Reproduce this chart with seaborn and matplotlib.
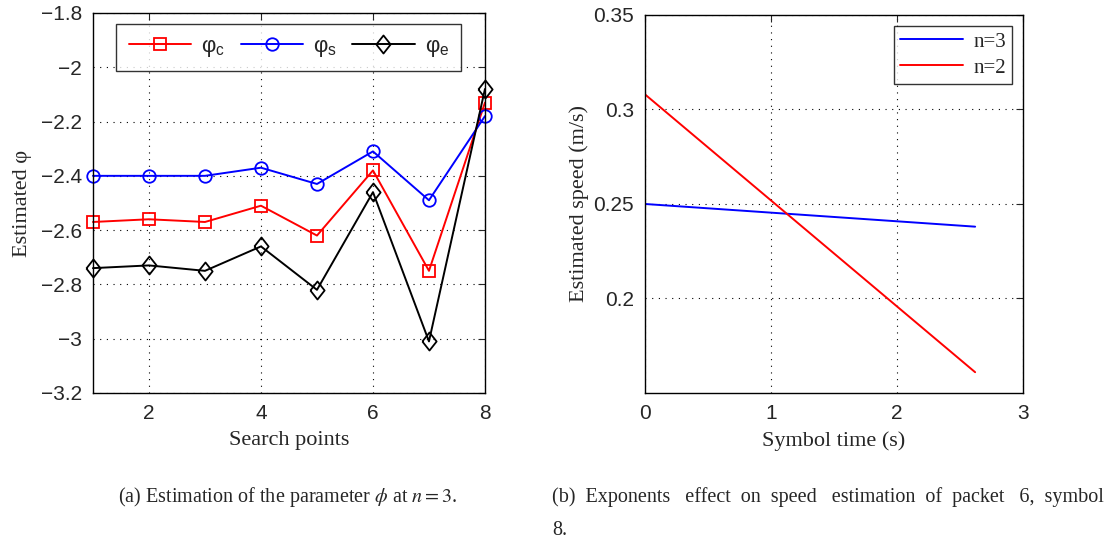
import numpy as np
import pandas as pd
import seaborn as sns
import matplotlib
matplotlib.use("Agg")
import matplotlib.pyplot as plt

# left panel: estimated phi per search point
search_points = [1, 2, 3, 4, 5, 6, 7, 8]
phi_c = [-2.57, -2.56, -2.57, -2.51, -2.62, -2.38, -2.75, -2.13]
phi_s = [-2.40, -2.40, -2.40, -2.37, -2.43, -2.31, -2.49, -2.18]
phi_e = [-2.74, -2.73, -2.75, -2.66, -2.82, -2.46, -3.01, -2.08]

# right panel: speed estimate vs symbol time (straight lines, end points)
symbol_time = [0.0, 2.62]
speed_n3 = [0.250, 0.238]
speed_n2 = [0.308, 0.161]

left_yticks = [-3.2, -3.0, -2.8, -2.6, -2.4, -2.2, -2.0, -1.8]
left_ylabels = ["\u22123.2", "\u22123", "\u22122.8", "\u22122.6", "\u22122.4", "\u22122.2", "\u22122", "\u22121.8"]

sns.set_style("white")
plt.rcParams["font.family"] = ["Liberation Sans", "DejaVu Sans"]
plt.rcParams["mathtext.fontset"] = "stix"
plt.rcParams["xtick.direction"] = "in"
plt.rcParams["ytick.direction"] = "in"
plt.rcParams["xtick.top"] = True
plt.rcParams["ytick.right"] = True

serif = ["Liberation Serif", "DejaVu Serif"]

fig = plt.figure(figsize=(11.08, 5.41), dpi=100)
ax1 = fig.add_axes([0.0839, 0.2736, 0.3538, 0.7024])
ax2 = fig.add_axes([0.5821, 0.2736, 0.3412, 0.6987])

# MATLAB-like diamond: taller than wide
diamond = [(-0.79, 0), (0, 1), (0.79, 0), (0, -1), (-0.79, 0)]

series = [
    (phi_c, "red", "s", 8, "\u03c6$_\\mathregular{c}$"),
    (phi_s, "blue", "o", 9, "\u03c6$_\\mathregular{s}$"),
    (phi_e, "black", diamond, 13, "\u03c6$_\\mathregular{e}$"),
]
for vals, col, mk, ms, lab in series:
    sns.lineplot(x=search_points, y=vals, ax=ax1, color=col, marker=mk,
                 markersize=ms, mfc="none", mec=col, mew=1.3, lw=1.4,
                 label=lab, legend=False, clip_on=False, zorder=3)

ax1.set_xlim(1, 8)
ax1.set_ylim(-3.2, -1.8)
ax1.set_xticks([2, 4, 6, 8])
ax1.set_yticks(left_yticks)
ax1.set_yticklabels(left_ylabels)
ax1.set_xlabel("Search points", family=serif, fontsize=16, labelpad=6)
ax1.set_ylabel("Estimated \u03c6", family=serif, fontsize=16, labelpad=6)
leg1 = ax1.legend(handles=ax1.lines[:3], loc="upper center", ncol=3,
                  bbox_to_anchor=(0.5, 0.971), borderaxespad=0, fontsize=16,
                  frameon=True, fancybox=False, edgecolor="black",
                  handlelength=2.8, columnspacing=0.7, handletextpad=0.45,
                  borderpad=0.55)
leg1.get_frame().set_linewidth(1.0)

sns.lineplot(x=symbol_time, y=speed_n3, ax=ax2, color="blue", lw=1.4, label="n=3", legend=False)
sns.lineplot(x=symbol_time, y=speed_n2, ax=ax2, color="red", lw=1.4, label="n=2", legend=False)
ax2.set_xlim(0, 3)
ax2.set_ylim(0.15, 0.35)
ax2.set_xticks([0, 1, 2, 3])
ax2.set_yticks([0.2, 0.25, 0.3, 0.35])
ax2.set_yticklabels(["0.2", "0.25", "0.3", "0.35"])
ax2.set_xlabel("Symbol time (s)", family=serif, fontsize=16, labelpad=6)
ax2.set_ylabel("Estimated speed (m/s)", family=serif, fontsize=16, labelpad=3)
leg2 = ax2.legend(loc="upper right", prop={"family": serif, "size": 15},
                  frameon=True, fancybox=False, edgecolor="black",
                  handlelength=3.0, handletextpad=0.5, borderpad=0.3,
                  labelspacing=0.3, borderaxespad=0,
                  bbox_to_anchor=(0.971, 0.971))
leg2.get_frame().set_linewidth(1.0)

for ax in (ax1, ax2):
    ax.grid(True, linestyle=(0, (1, 5)), color="black", linewidth=0.8)
    ax.tick_params(labelsize=15, length=5, width=0.8, pad=8)
    for sp in ax.spines.values():
        sp.set_color("black")
        sp.set_linewidth(1.0)
        sp.set_zorder(4)

fig.text(0.1065, 0.072, "(a) Estimation of the parameter $\\phi$ at $n = 3$.",
         family=serif, fontsize=14.5, va="baseline")
fig.text(0.498, 0.072, "(b)  Exponents   effect  on  speed   estimation  of  packet   6,  symbol",
         family=serif, fontsize=14.5, va="baseline")
fig.text(0.498, 0.011, "8.", family=serif, fontsize=14.5, va="baseline")

fig.savefig("out.png", dpi=100, facecolor="white")
